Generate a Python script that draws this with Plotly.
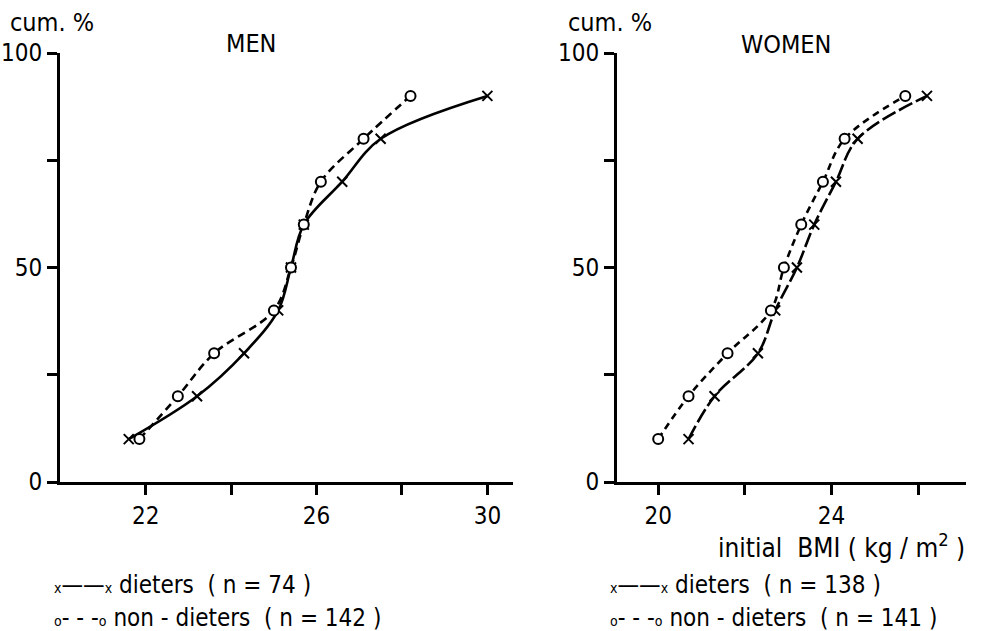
import plotly.graph_objects as go

# Cumulative percentage levels
cum_pct = [10, 20, 30, 40, 50, 60, 70, 80, 90]

# Initial BMI (kg/m2) at each cumulative percentage
men_dieters = [21.6, 23.2, 24.3, 25.1, 25.4, 25.7, 26.6, 27.5, 30.0]
men_nondieters = [21.85, 22.75, 23.6, 25.0, 25.4, 25.7, 26.1, 27.1, 28.2]
women_dieters = [20.7, 21.3, 22.3, 22.7, 23.2, 23.6, 24.1, 24.6, 26.2]
women_nondieters = [20.0, 20.7, 21.6, 22.6, 22.9, 23.3, 23.8, 24.3, 25.7]

# Labelled and unlabelled tick positions
y_ticks = [0, 50, 100]
y_minor = [25, 75]
men_xticks = [22, 26, 30]
men_xminor = [24, 28]
women_xticks = [20, 24]
women_xminor = [22, 26]

FONT = "DejaVu Sans Condensed, Liberation Sans Narrow, DejaVu Sans, sans-serif"
W, H = 981, 631

fig = go.Figure()


def add_series(x, y, xa, ya, symbol, dash, msize, fill):
    fig.add_trace(go.Scatter(
        x=x, y=y, xaxis=xa, yaxis=ya, mode="lines+markers",
        line=dict(color="black", width=2.6, dash=dash, shape="spline", smoothing=1.0),
        marker=dict(symbol=symbol, size=msize, color=fill,
                    line=dict(color="black", width=2)),
        showlegend=False, hoverinfo="skip",
    ))


add_series(men_dieters, cum_pct, "x", "y", "x-thin", "solid", 10, "black")
add_series(men_nondieters, cum_pct, "x", "y", "circle", "8px,5px", 10, "white")
add_series(women_dieters, cum_pct, "x2", "y2", "x-thin", "15px,4px", 10, "black")
add_series(women_nondieters, cum_pct, "x2", "y2", "circle", "7px,5px", 10, "white")

ydom = [1 - 482 / H, 1 - 53 / H]
axis_common = dict(
    showline=True, linecolor="black", linewidth=3, mirror=False,
    showgrid=False, zeroline=False, ticks="outside", ticklen=10,
    tickwidth=2.5, tickcolor="black", automargin=False, tickmode="array",
    tickfont=dict(family=FONT, size=24, color="black"),
)


def minor(vals):
    return dict(tickmode="array", tickvals=vals, ticks="outside", ticklen=10,
                tickwidth=2.5, tickcolor="black", showgrid=False)


fig.update_layout(
    template="none",
    width=W, height=H,
    margin=dict(l=0, r=0, t=0, b=0, pad=0),
    paper_bgcolor="white", plot_bgcolor="white",
    xaxis=dict(domain=[60 / W, 513 / W], range=[19.99, 30.6], anchor="y",
               tickvals=men_xticks, minor=minor(men_xminor), **axis_common),
    yaxis=dict(domain=ydom, range=[0, 100], anchor="x",
               tickvals=y_ticks, minor=minor(y_minor), **axis_common),
    xaxis2=dict(domain=[617 / W, 966 / W], range=[19.05, 27.1], anchor="y2",
                tickvals=women_xticks, minor=minor(women_xminor), **axis_common),
    yaxis2=dict(domain=ydom, range=[0, 100], anchor="x2",
                tickvals=y_ticks, minor=minor(y_minor), **axis_common),
)


def label(text, x, y, size=24, anchor="left"):
    fig.add_annotation(
        text=text, x=x / W, y=1 - y / H, xref="paper", yref="paper",
        xanchor=anchor, yanchor="middle", showarrow=False,
        font=dict(family=FONT, size=size, color="black"),
    )


# Panel headings
label("cum. %", 8, 22, 25)
label("MEN", 251, 43, 25, "center")
label("cum. %", 566, 22, 25)
label("WOMEN", 786, 45, 25, "center")

# Axis title
label("initial &nbsp;BMI ( kg / m<sup>2</sup> )", 716, 546, 26)

# Keys beneath each panel
sm = "<span style='font-size:14px'>{}</span>"
label(sm.format("x") + "——" + sm.format("x") + " dieters &nbsp;( n = 74 )", 52, 585, 24)
label(sm.format("o") + "- - -" + sm.format("o") + " non - dieters &nbsp;( n = 142 )", 52, 618, 24)
label(sm.format("x") + "——" + sm.format("x") + " dieters &nbsp;( n = 138 )", 608, 585, 24)
label(sm.format("o") + "- - -" + sm.format("o") + " non - dieters &nbsp;( n = 141 )", 608, 618, 24)

fig.write_html("out.html")
